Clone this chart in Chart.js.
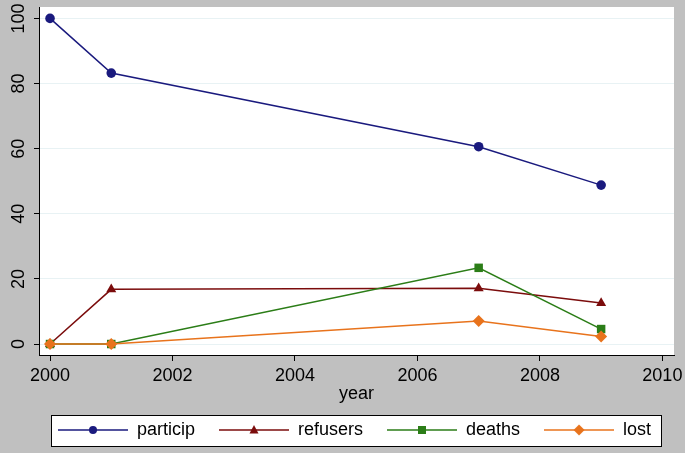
<!DOCTYPE html>
<html>
<head>
<meta charset="utf-8">
<script src="https://cdn.jsdelivr.net/npm/chart.js@4/dist/chart.umd.min.js"></script>
<style>
  html, body { margin: 0; padding: 0; background: #c0c0c0; }
  #wrap { width: 685px; height: 453px; }
</style>
</head>
<body>
<div id="wrap"><canvas id="attrition"></canvas></div>
<script>
const years = [2000, 2001, 2007, 2009];
const particip = [100, 83.2, 60.6, 48.8];
const refusers = [0, 16.8, 17.1, 12.6];
const deaths = [0, 0, 23.4, 4.6];
const lost = [0, 0, 7.1, 2.3];
const xTicks = [2000, 2002, 2004, 2006, 2008, 2010];
const yTicks = [0, 20, 40, 60, 80, 100];

const FONT = "'Liberation Sans', Arial, sans-serif";

function pts(vals) {
  return years.map((yr, i) => ({ x: yr, y: vals[i] }));
}

// little legend key: line with the marker in the middle
function legendKey(color, shape) {
  const c = document.createElement("canvas");
  c.width = 70; c.height = 16;
  const g = c.getContext("2d");
  g.strokeStyle = color; g.fillStyle = color; g.lineWidth = 1.5;
  g.beginPath(); g.moveTo(0, 8); g.lineTo(70, 8); g.stroke();
  g.beginPath();
  if (shape === "circle") g.arc(35, 8, 4, 0, Math.PI * 2);
  if (shape === "triangle") { g.moveTo(35, 3); g.lineTo(39.5, 11.5); g.lineTo(30.5, 11.5); g.closePath(); }
  if (shape === "rect") g.rect(31, 4, 8, 8);
  if (shape === "rectRot") { g.moveTo(35, 2.5); g.lineTo(40.5, 8); g.lineTo(35, 13.5); g.lineTo(29.5, 8); g.closePath(); }
  g.fill();
  return c;
}

const series = [
  { label: "particip", data: particip, color: "#1a1a7e", shape: "circle", r: 4.8 },
  { label: "refusers", data: refusers, color: "#7b0c0c", shape: "triangle", r: 5.8 },
  { label: "deaths", data: deaths, color: "#2b7d17", shape: "rect", r: 6 },
  { label: "lost", data: lost, color: "#e8731c", shape: "rectRot", r: 6 }
];

const bgPlugin = {
  id: "stataBg",
  afterLayout(chart) {
    // centre the legend under the plot region rather than the whole canvas
    chart.legend.left = 12;
    chart.legend.right = 697;
  },
  beforeDraw(chart) {
    const { ctx, chartArea: a, legend } = chart;
    ctx.save();
    ctx.fillStyle = "#c0c0c0";
    ctx.fillRect(0, 0, chart.width, chart.height);
    ctx.fillStyle = "#ffffff";
    ctx.fillRect(a.left, a.top, a.right - a.left, a.bottom - a.top);
    const hb = legend.legendHitBoxes;
    if (hb && hb.length) {
      const l = Math.min(...hb.map(h => h.left)) - 7;
      const r = Math.max(...hb.map(h => h.left + h.width)) + 10;
      const t = hb[0].top - 6;
      const b = hb[0].top + hb[0].height + 7;
      ctx.fillRect(l, t, r - l, b - t);
      ctx.strokeStyle = "#000000";
      ctx.lineWidth = 1;
      ctx.strokeRect(Math.round(l) + 0.5, Math.round(t) + 0.5, Math.round(r - l), Math.round(b - t));
    }
    ctx.restore();
  }
};

new Chart(document.getElementById("attrition"), {
  type: "line",
  data: {
    datasets: series.map((s, i) => ({
      label: s.label,
      data: pts(s.data),
      borderColor: s.color,
      backgroundColor: s.color,
      borderWidth: 1.5,
      pointStyle: s.shape,
      pointRadius: s.r,
      pointBorderWidth: 0,
      fill: false,
      tension: 0,
      order: series.length - i
    }))
  },
  options: {
    responsive: true,
    maintainAspectRatio: false,
    animation: false,
    layout: { padding: { top: 7, right: 11, left: 0, bottom: 4 } },
    scales: {
      x: {
        type: "linear",
        min: 1999.82,
        max: 2010.19,
        afterBuildTicks: s => { s.ticks = xTicks.map(v => ({ value: v })); },
        afterFit: s => { s.height = 42; s.paddingLeft = 0; s.paddingRight = 0; },
        grid: { drawOnChartArea: false, tickLength: 6, tickColor: "#000", color: "#000" },
        border: { color: "#000", width: 1 },
        ticks: { color: "#000", font: { family: FONT, size: 18 }, padding: 4, maxRotation: 0, callback: v => String(v) },
        title: { display: true, text: "year", color: "#000", font: { family: FONT, size: 18 }, padding: { top: 0, bottom: -8 } }
      },
      y: {
        min: -3.37,
        max: 103.5,
        afterBuildTicks: s => { s.ticks = yTicks.map(v => ({ value: v })); },
        afterFit: s => { s.width = 39; s.paddingTop = 0; s.paddingBottom = 0; },
        grid: { color: "#e8f2f4", lineWidth: 1, tickLength: 5, tickColor: "#000" },
        border: { color: "#000", width: 1 },
        ticks: { color: "#000", font: { family: FONT, size: 18 }, padding: 0, minRotation: 90, maxRotation: 90, crossAlign: "center" }
      }
    },
    plugins: {
      tooltip: { enabled: false },
      legend: {
        position: "bottom",
        labels: {
          usePointStyle: true,
          pointStyleWidth: 70,
          padding: 24,
          color: "#000",
          font: { family: FONT, size: 18 },
          generateLabels: () => series.map((s, i) => ({
            text: s.label,
            datasetIndex: i,
            pointStyle: legendKey(s.color, s.shape),
            fillStyle: s.color,
            strokeStyle: s.color,
            lineWidth: 0,
            fontColor: "#000"
          }))
        }
      }
    }
  },
  plugins: [bgPlugin]
});
</script>
</body>
</html>
